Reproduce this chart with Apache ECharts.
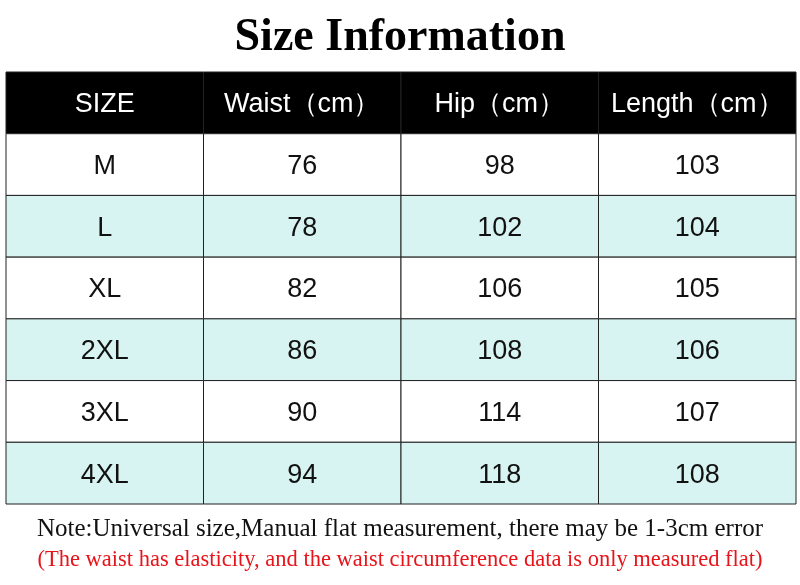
<!DOCTYPE html>
<html><head><meta charset="utf-8">
<script src="https://cdn.jsdelivr.net/npm/echarts@6/dist/echarts.min.js"></script>
<style>html,body{margin:0;padding:0;background:#fff}#c{width:800px;height:585px}</style>
</head><body><div id="c"></div>
<script>
const headers = ['SIZE', 'Waist（cm）', 'Hip（cm）', 'Length（cm）'];
const sizes = ['M', 'L', 'XL', '2XL', '3XL', '4XL'];
const waist = [76, 78, 82, 86, 90, 94];
const hip = [98, 102, 106, 108, 114, 118];
const length = [103, 104, 105, 106, 107, 108];

const cells = [];
headers.forEach((h, c) => cells.push([c, 0, h]));
sizes.forEach((s, r) => {
  [s, waist[r], hip[r], length[r]].forEach((v, c) => cells.push([c, r + 1, String(v)]));
});

const chart = echarts.init(document.getElementById('c'));
chart.setOption({
  animation: false,
  title: [
    {text: 'Size Information', left: 'center', top: 10,
     textStyle: {fontFamily: 'Liberation Serif', fontWeight: 'bold', fontSize: 46, color: '#000'}},
    {text: 'Note:Universal size,Manual flat measurement, there may be 1-3cm error', left: 'center', top: 512,
     textStyle: {fontFamily: 'Liberation Serif', fontWeight: 'normal', fontSize: 25, color: '#111'}},
    {text: '(The waist has elasticity, and the waist circumference data is only measured flat)', left: 'center', top: 544,
     textStyle: {fontFamily: 'Liberation Serif', fontWeight: 'normal', fontSize: 22.5, color: '#e8141a'}}
  ],
  grid: {left: 6, right: 4, top: 72, bottom: 81},
  xAxis: {type: 'category', data: [0,1,2,3], show: false},
  yAxis: {type: 'category', data: [0,1,2,3,4,5,6], inverse: true, show: false},
  series: [{
    type: 'custom',
    data: cells,
    renderItem: function (params, api) {
      const c = api.value(0), r = api.value(1);
      const p = api.coord([c, r]);
      const s = api.size([1, 1]);
      const fill = r === 0 ? '#000' : (r % 2 === 0 ? '#d8f4f2' : '#fff');
      return {
        type: 'group',
        children: [
          {type: 'rect', shape: {x: p[0] - s[0] / 2, y: p[1] - s[1] / 2, width: s[0], height: s[1]},
           style: {fill: fill, stroke: '#222', lineWidth: 1}},
          {type: 'text', x: p[0], y: p[1] + 2,
           style: {text: cells[params.dataIndex][2], align: 'center', verticalAlign: 'middle',
                   fill: r === 0 ? '#fff' : '#111', font: '27px "Liberation Sans", Arial'}}
        ]
      };
    }
  }]
});
</script></body></html>
